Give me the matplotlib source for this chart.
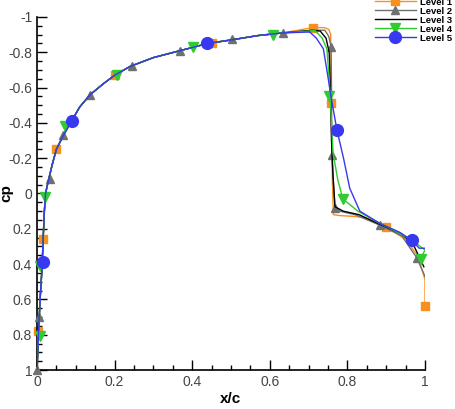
import numpy as np
import matplotlib
matplotlib.use('Agg')
import matplotlib.pyplot as plt
from matplotlib.ticker import MultipleLocator, FuncFormatter

# common leading part of the upper surface (x/c, cp)
x_common = [0.0, 0.002, 0.004, 0.008, 0.013, 0.016, 0.019, 0.022, 0.03, 0.04, 0.05, 0.068,
            0.089, 0.11, 0.137, 0.17, 0.2, 0.24, 0.3, 0.37, 0.44, 0.5, 0.57, 0.634]
cp_common = [1.0, 0.9, 0.78, 0.6, 0.42, 0.25, 0.1, 0.0, -0.08, -0.17, -0.25, -0.33,
             -0.41, -0.49, -0.56, -0.62, -0.67, -0.72, -0.77, -0.81, -0.85, -0.87, -0.895, -0.91]

# shock + trailing part for each grid level
x_l1 = [0.711, 0.74, 0.752, 0.757, 0.758, 0.762, 0.764, 0.78, 0.82, 0.85, 0.9, 0.95, 0.98, 0.995, 1.0, 1.0]
cp_l1 = [-0.94, -0.94, -0.93, -0.9, -0.5, 0.0, 0.12, 0.125, 0.13, 0.14, 0.19, 0.26, 0.35, 0.45, 0.49, 0.64]
x_l2 = [0.72, 0.742, 0.752, 0.758, 0.759, 0.76, 0.764, 0.768, 0.78, 0.82, 0.884, 0.94, 0.979, 1.0]
cp_l2 = [-0.925, -0.925, -0.89, -0.83, -0.6, -0.22, -0.05, 0.08, 0.1, 0.12, 0.18, 0.24, 0.365, 0.47]
x_l3 = [0.71, 0.73, 0.745, 0.753, 0.756, 0.759, 0.763, 0.768, 0.789, 0.83, 0.884, 0.94, 0.97, 0.997]
cp_l3 = [-0.925, -0.92, -0.88, -0.8, -0.6, -0.3, -0.1, 0.075, 0.1, 0.12, 0.175, 0.23, 0.29, 0.415]
x_l4 = [0.7, 0.716, 0.735, 0.747, 0.753, 0.758, 0.763, 0.775, 0.788, 0.827, 0.884, 0.935, 0.966, 1.0, 0.987]
cp_l4 = [-0.92, -0.925, -0.88, -0.82, -0.65, -0.45, -0.23, -0.08, 0.03, 0.1, 0.17, 0.225, 0.265, 0.32, 0.375]
x_l5 = [0.703, 0.72, 0.738, 0.747, 0.76, 0.773, 0.79, 0.806, 0.832, 0.884, 0.935, 0.966, 0.985, 1.0]
cp_l5 = [-0.915, -0.88, -0.82, -0.7, -0.52, -0.36, -0.2, -0.03, 0.1, 0.17, 0.22, 0.265, 0.31, 0.31]

# marker positions (symbols are skipped along the lines)
mk_x1 = [0.003, 0.015, 0.05, 0.2, 0.451, 0.711, 0.757, 0.9, 1.0]
mk_cp1 = [0.78, 0.26, -0.25, -0.67, -0.85, -0.94, -0.51, 0.19, 0.64]
mk_x2 = [0.0, 0.005, 0.034, 0.068, 0.137, 0.245, 0.369, 0.503, 0.634, 0.758, 0.76, 0.768, 0.884, 0.979]
mk_cp2 = [1.0, 0.7, -0.08, -0.33, -0.56, -0.72, -0.81, -0.875, -0.91, -0.83, -0.22, 0.08, 0.18, 0.365]
mk_x4 = [0.008, 0.008, 0.021, 0.072, 0.206, 0.402, 0.608, 0.752, 0.788, 0.99]
mk_cp4 = [0.81, 0.41, 0.02, -0.38, -0.67, -0.83, -0.9, -0.55, 0.03, 0.37]
mk_x5 = [0.015, 0.089, 0.438, 0.773, 0.966]
mk_cp5 = [0.39, -0.41, -0.85, -0.36, 0.265]

labels = ['Level 1', 'Level 2', 'Level 3', 'Level 4', 'Level 5']
colors = ['#F7901E', '#707070', '#000000', '#2ECC2E', '#3838F0']
markers = ['s', '^', None, 'v', 'o']
msizes = [5.5, 5.5, 0, 6.5, 8.5]

plt.rcParams['font.family'] = ['Liberation Sans', 'DejaVu Sans']

fig = plt.figure(figsize=(4.56, 4.09), dpi=100)
ax = fig.add_axes([37/456, 1-370/409, 388/456, 353/409])

tails = [(x_l1, cp_l1), (x_l2, cp_l2), (x_l3, cp_l3), (x_l4, cp_l4), (x_l5, cp_l5)]
marks = [(mk_x1, mk_cp1), (mk_x2, mk_cp2), None, (mk_x4, mk_cp4), (mk_x5, mk_cp5)]

handles = []
for i in range(5):
    xs = np.array(x_common + tails[i][0])
    ys = np.array(cp_common + tails[i][1])
    ax.plot(xs, ys, color=colors[i], lw=1.0, zorder=2+i)
    if marks[i] is not None:
        ax.plot(marks[i][0], marks[i][1], ls='none', marker=markers[i], ms=msizes[i],
                color=colors[i], mec=colors[i], zorder=2+i, clip_on=False)
    # handle for legend: line with marker in middle
    h, = ax.plot([], [], color=colors[i], lw=1.0, marker=markers[i], ms=msizes[i],
                 mec=colors[i])
    handles.append(h)

ax.set_xlim(0, 1)
ax.set_ylim(1, -1)

ax.spines['top'].set_visible(False)
ax.spines['right'].set_visible(False)
ax.spines['left'].set_linewidth(1.2)
ax.spines['bottom'].set_linewidth(1.2)

ax.xaxis.set_major_locator(MultipleLocator(0.2))
ax.xaxis.set_minor_locator(MultipleLocator(0.05))
ax.yaxis.set_major_locator(MultipleLocator(0.2))
ax.yaxis.set_minor_locator(MultipleLocator(0.05))
# plain labels like -0.8, 0, 1 (hyphen minus, no trailing zeros)
fmt = FuncFormatter(lambda v, p: '%g' % round(v, 2) if abs(v) > 1e-9 else '0')
ax.xaxis.set_major_formatter(fmt)
ax.yaxis.set_major_formatter(fmt)
ax.tick_params(which='both', direction='in', top=False, right=False, width=1.0,
               labelsize=10, labelcolor='#444444')
ax.tick_params(which='major', length=7)
ax.tick_params(which='minor', length=3.5)

ax.set_xlabel('x/c', fontsize=11, fontweight='bold', labelpad=2)
ax.set_ylabel('cp', fontsize=11, fontweight='bold')
ax.yaxis.set_label_coords(-24/388, 0.5)

# legend in the top right corner, partly cut by the figure edge
fig.legend(handles, labels, loc='upper left', bbox_to_anchor=(375/456, 1.006),
           frameon=False, prop=dict(size=6.8, weight='bold'), handlelength=4.3,
           handletextpad=0.5, labelspacing=0.0, borderpad=0, borderaxespad=0)

plt.savefig('out.png', dpi=100)
plt.close()
